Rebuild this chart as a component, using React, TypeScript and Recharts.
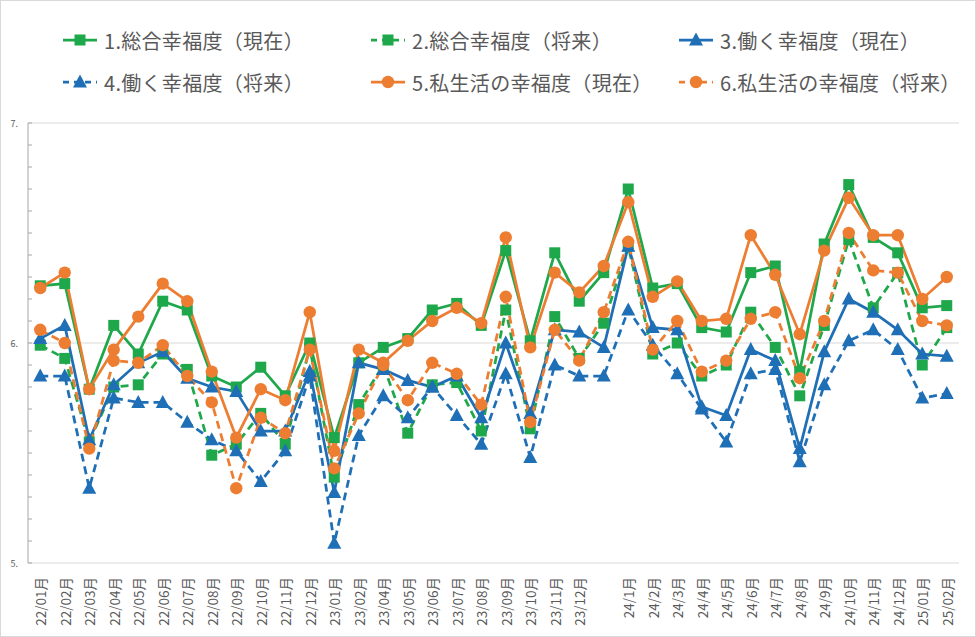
import React from 'react';
import { LineChart, Line, XAxis, YAxis, ReferenceLine, Legend } from 'recharts';

document.body.style.margin = '0';

// 調査月（23/03 は欠番、23/12 の次は空欄）
const months = [
  '22/01月', '22/02月', '22/03月', '22/04月', '22/05月', '22/06月', '22/07月', '22/08月',
  '22/09月', '22/10月', '22/11月', '22/12月', '23/01月', '23/02月', '23/04月', '23/05月',
  '23/06月', '23/07月', '23/08月', '23/09月', '23/10月', '23/11月', '23/12月', '',
  '24/1月', '24/2月', '24/3月', '24/4月', '24/5月', '24/6月', '24/7月', '24/8月',
  '24/9月', '24/10月', '24/11月', '24/12月', '25/01月', '25/02月',
];

const total_now = [
  6.26, 6.27, 5.79, 6.08, 5.95, 6.19, 6.15, 5.85, 5.80, 5.89, 5.76, 6.00, 5.57, 5.91, 5.98, 6.02,
  6.15, 6.18, 6.08, 6.42, 6.01, 6.41, 6.19, 6.32, 6.70, 6.25, 6.27, 6.07, 6.05, 6.32, 6.35, 5.87,
  6.45, 6.72, 6.48, 6.41, 6.16, 6.17,
];
const total_future = [
  5.99, 5.93, 5.55, 5.80, 5.81, 5.95, 5.88, 5.49, 5.54, 5.68, 5.54, 5.98, 5.39, 5.72, 5.90, 5.59,
  5.81, 5.82, 5.60, 6.15, 5.61, 6.12, 5.93, 6.09, 6.44, 5.95, 6.00, 5.85, 5.90, 6.14, 5.98, 5.76,
  6.08, 6.47, 6.16, 6.32, 5.90, 6.07,
];
const work_now = [
  6.02, 6.08, 5.56, 5.81, 5.91, 5.96, 5.84, 5.80, 5.78, 5.60, 5.60, 5.87, 5.32, 5.91, 5.88, 5.83,
  5.80, 5.85, 5.66, 6.00, 5.68, 6.06, 6.05, 5.98, 6.44, 6.07, 6.06, 5.71, 5.67, 5.97, 5.92, 5.52,
  5.96, 6.20, 6.14, 6.06, 5.95, 5.94,
];
const work_future = [
  5.85, 5.85, 5.34, 5.75, 5.73, 5.73, 5.64, 5.56, 5.51, 5.37, 5.51, 5.85, 5.09, 5.58, 5.76, 5.66,
  5.80, 5.67, 5.54, 5.86, 5.48, 5.90, 5.85, 5.85, 6.15, 5.99, 5.86, 5.70, 5.55, 5.86, 5.88, 5.46,
  5.81, 6.01, 6.06, 5.97, 5.75, 5.77,
];
const private_now = [
  6.25, 6.32, 5.79, 5.97, 6.12, 6.27, 6.19, 5.87, 5.57, 5.79, 5.74, 6.14, 5.51, 5.97, 5.91, 6.01,
  6.10, 6.16, 6.09, 6.48, 5.98, 6.32, 6.23, 6.35, 6.64, 6.21, 6.28, 6.10, 6.11, 6.49, 6.31, 6.04,
  6.42, 6.66, 6.49, 6.49, 6.20, 6.30,
];
const private_future = [
  6.06, 6.00, 5.52, 5.92, 5.91, 5.99, 5.85, 5.73, 5.34, 5.66, 5.59, 5.97, 5.43, 5.68, 5.90, 5.74,
  5.91, 5.86, 5.72, 6.21, 5.64, 6.06, 5.92, 6.14, 6.46, 5.97, 6.10, 5.87, 5.92, 6.11, 6.14, 5.84,
  6.10, 6.50, 6.33, 6.32, 6.10, 6.08,
];

const yTicks = [5, 5.1, 5.2, 5.3, 5.4, 5.5, 5.6, 5.7, 5.8, 5.9, 6, 6.1, 6.2, 6.3, 6.4, 6.5, 6.6, 6.7, 6.8, 6.9, 7];
const yLabelled = [5, 6, 7];

const GREEN = '#1fa84b';
const BLUE = '#1f6fb6';
const ORANGE = '#ed7d31';
const TEXT = '#595959';
const FONT = '"Noto Sans CJK JP", "Noto Sans", sans-serif';

const data = months.map((month, i) => ({
  month,
  s1: total_now[i],
  s2: total_future[i],
  s3: work_now[i],
  s4: work_future[i],
  s5: private_now[i],
  s6: private_future[i],
}));

type Shape = 'square' | 'triangle' | 'circle';

const series: { key: string; name: string; color: string; dashed: boolean; shape: Shape }[] = [
  { key: 's1', name: '1.総合幸福度（現在）', color: GREEN, dashed: false, shape: 'square' },
  { key: 's2', name: '2.総合幸福度（将来）', color: GREEN, dashed: true, shape: 'square' },
  { key: 's3', name: '3.働く幸福度（現在）', color: BLUE, dashed: false, shape: 'triangle' },
  { key: 's4', name: '4.働く幸福度（将来）', color: BLUE, dashed: true, shape: 'triangle' },
  { key: 's5', name: '5.私生活の幸福度（現在）', color: ORANGE, dashed: false, shape: 'circle' },
  { key: 's6', name: '6.私生活の幸福度（将来）', color: ORANGE, dashed: true, shape: 'circle' },
];

function Marker({ shape, cx, cy, color }: { shape: Shape; cx: number; cy: number; color: string }) {
  if (shape === 'square') {
    return <rect x={cx - 5.5} y={cy - 5.5} width={11} height={11} fill={color} />;
  }
  if (shape === 'triangle') {
    return <polygon points={`${cx},${cy - 7.5} ${cx + 7},${cy + 5.5} ${cx - 7},${cy + 5.5}`} fill={color} />;
  }
  return <circle cx={cx} cy={cy} r={6.2} fill={color} />;
}

const makeDot = (shape: Shape, color: string) => (props: any) => {
  const { cx, cy, index } = props;
  if (cx == null || cy == null) return <g key={index} />;
  return (
    <g key={index}>
      <Marker shape={shape} cx={cx} cy={cy} color={color} />
    </g>
  );
};

function YTick(props: any) {
  const { x, y, payload } = props;
  const major = yLabelled.some((v) => Math.abs(v - payload.value) < 1e-6);
  return (
    <g>
      <line x1={x} x2={x + 4} y1={y} y2={y} stroke="#a6a6a6" strokeWidth={1} />
      {major && (
        <text x={x - 10} y={y} textAnchor="end" dominantBaseline="central" fontSize={9} fill={TEXT} fontFamily={FONT}>
          {`${payload.value}.`}
        </text>
      )}
    </g>
  );
}

function XTick(props: any) {
  const { x, y, payload } = props;
  return (
    <g transform={`translate(${x},${y + 14})`}>
      <text transform="rotate(-90)" textAnchor="end" dominantBaseline="central" fontSize={13.5} fill={TEXT} fontFamily={FONT}>
        {payload.value}
      </text>
    </g>
  );
}

const legendCols = [62, 370, 678];
const legendRows = [40, 82];

function LegendContent() {
  return (
    <div style={{ position: 'relative', width: 976, height: 110 }}>
      {series.map((s, i) => {
        const left = legendCols[i % 3];
        const top = legendRows[Math.floor(i / 3)];
        return (
          <div key={s.key} style={{ position: 'absolute', left, top: top - 15, height: 30, display: 'flex', alignItems: 'center' }}>
            <svg width={36} height={20}>
              <line x1={1} x2={35} y1={10} y2={10} stroke={s.color} strokeWidth={2.75} strokeDasharray={s.dashed ? '6 5' : undefined} />
              <Marker shape={s.shape} cx={18} cy={10} color={s.color} />
            </svg>
            <span style={{ marginLeft: 6, fontSize: 20, letterSpacing: 0.3, color: TEXT, fontFamily: FONT, whiteSpace: 'nowrap' }}>{s.name}</span>
          </div>
        );
      })}
    </div>
  );
}

export default function App() {
  return (
    <div style={{ position: 'relative', width: 976, height: 637, background: '#fff' }}>
      <LineChart width={976} height={637} data={data} margin={{ top: 123, right: 17, bottom: 10, left: 8 }}>
        <Legend
          content={<LegendContent />}
          layout="horizontal"
          verticalAlign="middle"
          align="center"
          wrapperStyle={{ top: 0, left: 0, width: 976, height: 110 }}
        />
        <ReferenceLine y={7} stroke="#d9d9d9" />
        <ReferenceLine y={6} stroke="#d9d9d9" />
        <XAxis
          dataKey="month"
          scale="band"
          interval={0}
          tickLine={false}
          tickSize={0}
          tickMargin={0}
          height={64}
          axisLine={{ stroke: '#d9d9d9' }}
          tick={<XTick />}
        />
        <YAxis
          type="number"
          domain={[5, 7]}
          ticks={yTicks}
          interval={0}
          width={20}
          tickLine={false}
          tickSize={0}
          tickMargin={0}
          axisLine={{ stroke: '#a6a6a6' }}
          tick={<YTick />}
        />
        {series.map((s) => (
          <Line
            key={s.key}
            type="linear"
            dataKey={s.key}
            name={s.name}
            stroke={s.color}
            strokeWidth={2.75}
            strokeDasharray={s.dashed ? '8 5' : undefined}
            dot={makeDot(s.shape, s.color)}
            activeDot={false}
            isAnimationActive={false}
          />
        ))}
      </LineChart>
      <div style={{ position: 'absolute', inset: 0, border: '1px solid #d9d9d9', pointerEvents: 'none' }} />
    </div>
  );
}
